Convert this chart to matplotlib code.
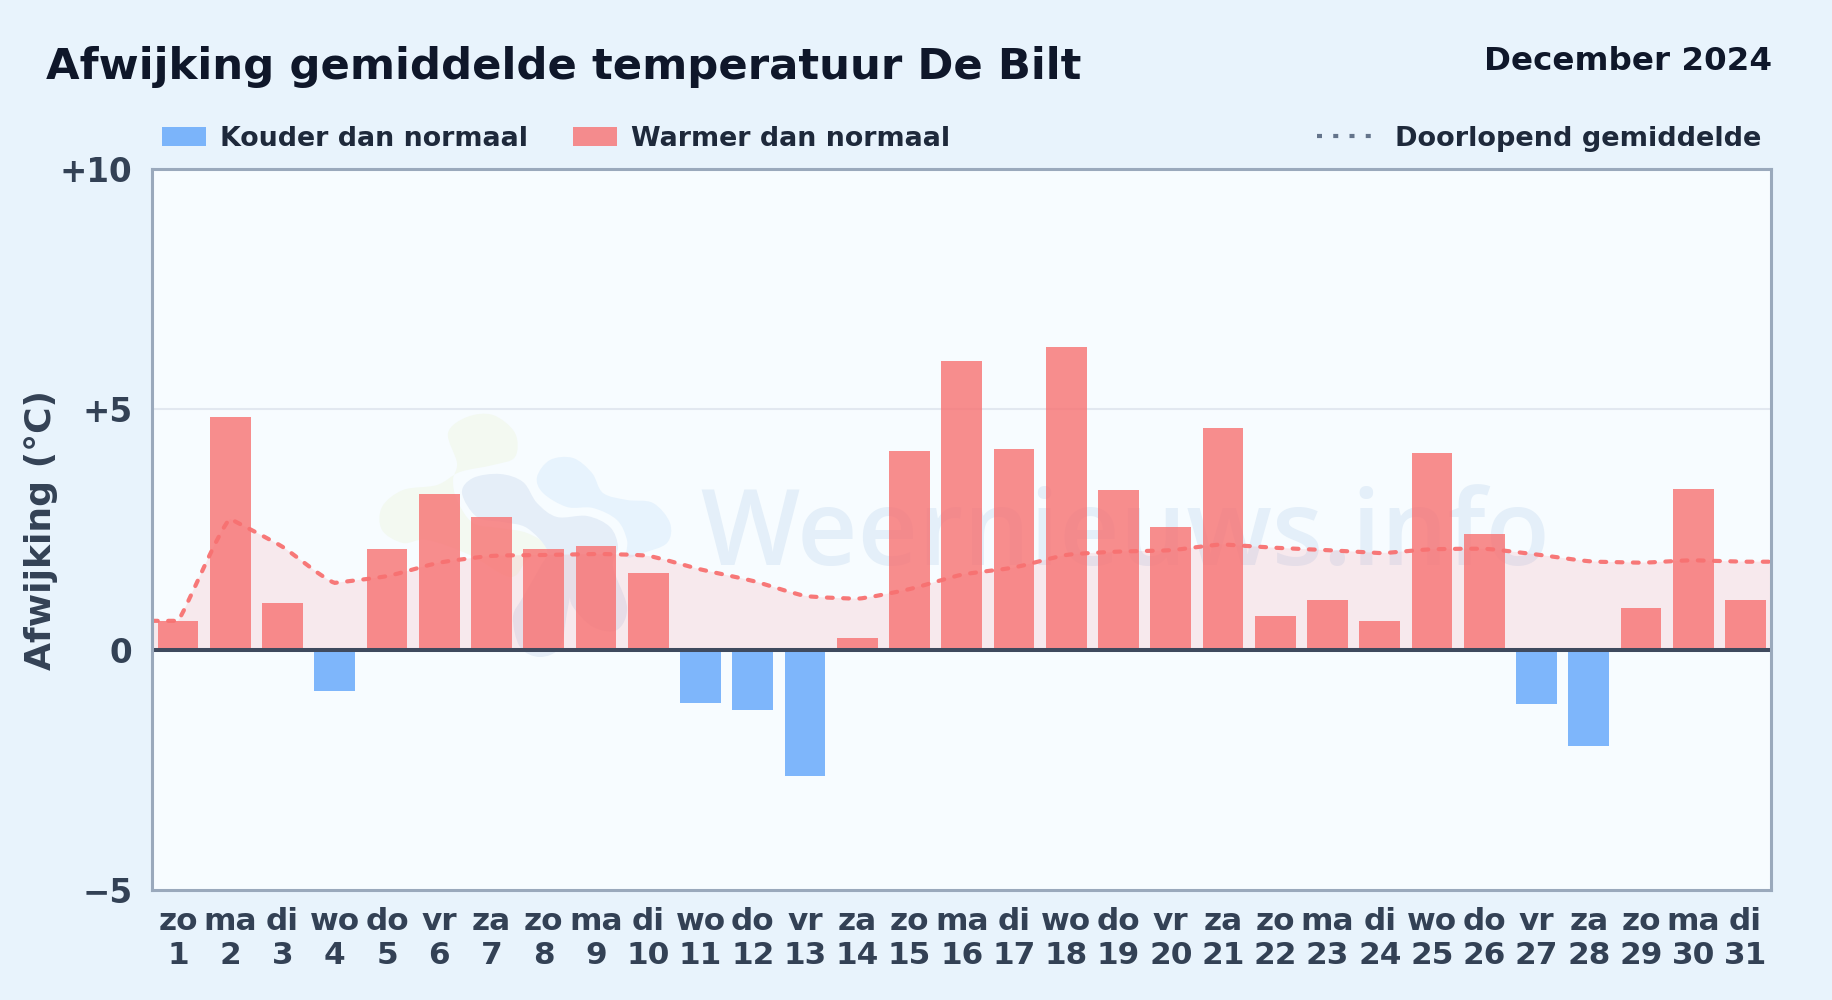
import matplotlib
matplotlib.use("Agg")
import matplotlib.pyplot as plt
from matplotlib.lines import Line2D
from matplotlib.patches import Patch, PathPatch
from matplotlib.path import Path
import numpy as np

W, H = 1832, 1000

weekdays = ["zo", "ma", "di", "wo", "do", "vr", "za", "zo", "ma", "di", "wo", "do", "vr", "za", "zo", "ma",
            "di", "wo", "do", "vr", "za", "zo", "ma", "di", "wo", "do", "vr", "za", "zo", "ma", "di"]
days = list(range(1, 32))
deviation = [0.6, 4.84, 0.97, -0.85, 2.1, 3.23, 2.75, 2.1, 2.15, 1.6, -1.1, -1.25, -2.63, 0.25, 4.13, 6.0,
             4.17, 6.3, 3.33, 2.55, 4.62, 0.7, 1.03, 0.6, 4.1, 2.4, -1.14, -2.0, 0.87, 3.35, 1.03]
running_mean = [0.6, 2.72, 2.14, 1.39, 1.53, 1.81, 1.95, 1.97, 1.99, 1.95, 1.67, 1.43, 1.12, 1.06, 1.26, 1.56,
                1.71, 1.97, 2.04, 2.07, 2.19, 2.12, 2.07, 2.01, 2.09, 2.1, 1.98, 1.84, 1.81, 1.86, 1.83]
y_ticks = [-5, 0, 5, 10]
y_tick_labels = ["\u22125", "0", "+5", "+10"]

RED = "#f87171"
BLUE = "#60a5fa"
TICK = "#334155"

# logo outlines of the watermark, in pixels of the picture
logo_green = [(448, 433), (467, 417), (493, 415), (515, 433), (515, 457), (493, 465), (460, 472), (437, 485),
              (403, 490), (382, 507), (382, 530), (403, 543), (427, 540), (470, 555), (510, 577), (527, 560),
              (547, 547), (527, 533), (500, 528), (473, 523), (457, 500), (453, 480), (457, 463)]
logo_dark = [(462, 493), (473, 478), (500, 474), (523, 482), (537, 503), (557, 517), (587, 516), (610, 527),
             (618, 547), (613, 567), (627, 607), (617, 630), (593, 627), (573, 607), (570, 593), (573, 580),
             (567, 613), (560, 647), (540, 657), (520, 647), (513, 617), (523, 597), (540, 567), (547, 550),
             (527, 528), (503, 522), (477, 517)]
logo_light = [(537, 477), (550, 460), (573, 458), (592, 473), (603, 493), (627, 500), (653, 503), (670, 523),
              (667, 543), (643, 553), (627, 557), (627, 540), (617, 520), (593, 508), (567, 507), (543, 493)]


def tension_path(x, y, tension=0.1):
    # bezier segments through the points, a control point that would overshoot falls back on the point itself
    pts = np.column_stack([x, y]).astype(float)
    verts = [tuple(pts[0])]
    for i in range(len(pts) - 1):
        before = pts[max(i - 1, 0)]
        after = pts[min(i + 2, len(pts) - 1)]
        low, high = sorted([pts[i][1], pts[i + 1][1]])
        c1 = pts[i] + tension * (pts[i + 1] - before)
        c2 = pts[i + 1] - tension * (after - pts[i])
        if not low <= c1[1] <= high:
            c1 = pts[i]
        if not low <= c2[1] <= high:
            c2 = pts[i + 1]
        verts.append(tuple(c1))
        verts.append(tuple(c2))
        verts.append(tuple(pts[i + 1]))
    return verts


def blob(points):
    # closed smooth outline through pixel points, returned in figure fractions
    pts = np.array(points, dtype=float)
    n = len(pts)
    verts = [pts[0]]
    codes = [Path.MOVETO]
    for i in range(n):
        p0, p1, p2, p3 = pts[i - 1], pts[i], pts[(i + 1) % n], pts[(i + 2) % n]
        verts += [p1 + (p2 - p0) / 6, p2 - (p3 - p1) / 6, p2]
        codes += [Path.CURVE4] * 3
    verts = np.array(verts) / [W, H]
    verts[:, 1] = 1 - verts[:, 1]
    return Path(verts, codes)


plt.rcParams["font.family"] = "DejaVu Sans"
plt.rcParams["font.weight"] = "bold"

fig = plt.figure(figsize=(W / 100, H / 100), dpi=100, facecolor="#e8f3fc")
ax_left, ax_right = 151.9, 1770.7
ax = fig.add_axes([ax_left / W, 1 - 890 / H, (ax_right - ax_left) / W, (890 - 169) / H], facecolor="#f7fcff")

# watermark
for outline, colour in [(logo_green, "#f3f9f1"), (logo_light, "#e7f3fd"), (logo_dark, "#e5eef8")]:
    ax.add_patch(PathPatch(blob(outline), transform=fig.transFigure, facecolor=colour, edgecolor="none", zorder=1))
ax.text(700 / W, 1 - 565 / H, "Weernieuws.info", transform=fig.transFigure, family="Open Sans", weight="semibold",
        fontsize=75.5, color="#e4eff9", ha="left", va="baseline", zorder=1, clip_on=True)

ax.axhline(5, color="#e2e8f0", lw=1.5, zorder=2)

line_x = [0.5] + days + [31.5]
line_y = [running_mean[0]] + running_mean + [running_mean[-1]]
verts = tension_path(line_x, line_y)
curve_codes = [Path.MOVETO] + [Path.CURVE4] * (len(verts) - 1)
fill_verts = verts + [(31.5, 0), (0.5, 0), (0.5, 0)]
fill_codes = curve_codes + [Path.LINETO, Path.LINETO, Path.CLOSEPOLY]
ax.add_patch(PathPatch(Path(fill_verts, fill_codes), facecolor="#fb6f7a", alpha=0.13, edgecolor="none", zorder=3))

colours = [BLUE if v < 0 else RED for v in deviation]
ax.bar(days, deviation, width=0.78, color=colours, alpha=0.8, linewidth=0, zorder=4)

ax.add_patch(PathPatch(Path(verts, curve_codes), facecolor="none", edgecolor=RED, lw=3.0, alpha=0.95,
                       linestyle=(0, (1.4, 2.5)), capstyle="round", zorder=5))
ax.axhline(0, color="#3f4a5e", lw=2.9, zorder=6)

ax.set_xlim(0.5, 31.48)
ax.set_ylim(-5, 10)
ax.set_yticks(y_ticks)
ax.set_yticklabels(y_tick_labels)
ax.set_xticks(days)
ax.set_xticklabels([d + "\n" + str(n) for d, n in zip(weekdays, days)], linespacing=1.2)
ax.tick_params(axis="y", length=0, pad=14, labelsize=23.5, labelcolor=TICK)
ax.tick_params(axis="x", length=0, pad=12.5, labelsize=22.4, labelcolor=TICK)
for spine in ax.spines.values():
    spine.set_color("#9aa9bc")
    spine.set_linewidth(2.2)
    spine.set_zorder(7)

ax.set_ylabel("Afwijking (°C)", fontsize=26, color=TICK, fontweight="bold")
ax.yaxis.set_label_coords((57.5 - ax_left) / (ax_right - ax_left), 0.5)

fig.text(46 / W, 1 - 67.5 / H, "Afwijking gemiddelde temperatuur De Bilt", fontsize=31.2, color="#0f172a",
         ha="left", va="center")
fig.text(1772 / W, 1 - 61 / H, "December 2024", fontsize=23.4, color="#0f172a", ha="right", va="center")

left_handles = [Patch(facecolor=BLUE, alpha=0.8, linewidth=0, label="Kouder dan normaal"),
                Patch(facecolor=RED, alpha=0.8, linewidth=0, label="Warmer dan normaal")]
left_legend = ax.legend(handles=left_handles, loc="center left", bbox_to_anchor=(162 / W, 1 - 139 / H),
                        bbox_transform=fig.transFigure, ncol=2, frameon=False, fontsize=19.4, borderpad=0,
                        borderaxespad=0, handlelength=1.64, handleheight=0.72, handletextpad=0.52,
                        columnspacing=1.67, labelcolor="#1e293b")
ax.add_artist(left_legend)
dots = Line2D([], [], color="#64748b", lw=3.0, linestyle=(0, (1.2, 2.7)), label="Doorlopend gemiddelde")
ax.legend(handles=[dots], loc="center right", bbox_to_anchor=(1761 / W, 1 - 139 / H),
          bbox_transform=fig.transFigure, frameon=False, fontsize=19.55, borderpad=0, borderaxespad=0,
          handlelength=2.0, handletextpad=0.85, labelcolor="#1e293b")

fig.savefig("out.png", dpi=100, facecolor=fig.get_facecolor())
